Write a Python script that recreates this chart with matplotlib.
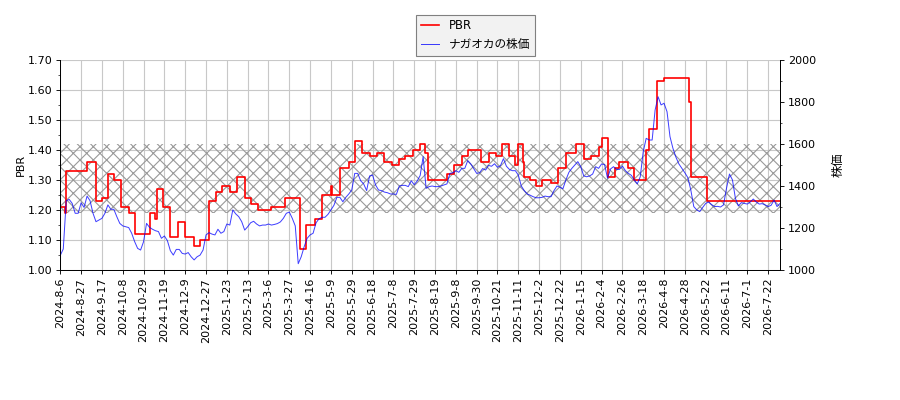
import numpy as np
import matplotlib
matplotlib.use('Agg')
import matplotlib.pyplot as plt
from matplotlib.ticker import MultipleLocator

plt.rcParams['font.family'] = ['DejaVu Sans', 'Noto Sans CJK JP']

# x軸ラベル（14営業日ごと）
tick_labels = ['2024-8-6', '2024-8-27', '2024-9-17', '2024-10-8', '2024-10-29', '2024-11-19',
               '2024-12-9', '2024-12-27', '2025-1-23', '2025-2-13', '2025-3-6', '2025-3-27',
               '2025-4-16', '2025-5-9', '2025-5-29', '2025-6-18', '2025-7-8', '2025-7-29',
               '2025-8-19', '2025-9-8', '2025-9-30', '2025-10-21', '2025-11-11', '2025-12-2',
               '2025-12-22', '2026-1-15', '2026-2-4', '2026-2-26', '2026-3-18', '2026-4-8',
               '2026-4-28', '2026-5-22', '2026-6-11', '2026-7-1', '2026-7-22']
tick_step = 14
n_days = 485

# PBR（変化した営業日 -> 値）
pbr_start = [0, 3, 4, 18, 24, 28, 32, 36, 41, 46, 50, 60, 64, 65, 69, 74, 79, 84, 90, 94,
             100, 105, 109, 114, 119, 124, 128, 133, 142, 151, 161, 165, 171, 176, 182, 183,
             188, 194, 198, 203, 208, 213, 218, 223, 228, 232, 237, 242, 245, 247, 260, 265,
             270, 274, 283, 288, 293, 297, 302, 306, 308, 311, 312, 316, 320, 324, 330, 335,
             340, 347, 352, 357, 362, 364, 368, 373, 376, 382, 386, 394, 396, 401, 406, 423,
             424, 435]
pbr_vals = [1.21, 1.19, 1.33, 1.36, 1.23, 1.24, 1.32, 1.30, 1.21, 1.19, 1.12, 1.19, 1.17, 1.27,
            1.21, 1.11, 1.16, 1.11, 1.08, 1.10, 1.23, 1.26, 1.28, 1.26, 1.31, 1.24, 1.22, 1.20,
            1.21, 1.24, 1.07, 1.15, 1.17, 1.25, 1.28, 1.25, 1.34, 1.36, 1.43, 1.39, 1.38, 1.39,
            1.36, 1.35, 1.37, 1.38, 1.40, 1.42, 1.39, 1.30, 1.32, 1.35, 1.38, 1.40, 1.36, 1.39,
            1.38, 1.42, 1.38, 1.35, 1.42, 1.36, 1.31, 1.30, 1.28, 1.30, 1.29, 1.34, 1.39, 1.42,
            1.37, 1.38, 1.41, 1.44, 1.31, 1.34, 1.36, 1.34, 1.30, 1.40, 1.47, 1.63, 1.64, 1.56,
            1.31, 1.23]

# 株価（2営業日ごと）
price_step = 2
price = [1070, 1100, 1330, 1336, 1317, 1270, 1270, 1320, 1298, 1352,
         1330, 1270, 1230, 1238, 1246, 1270, 1310, 1289, 1289, 1254,
         1222, 1210, 1206, 1202, 1175, 1135, 1103, 1095, 1135, 1222,
         1203, 1194, 1187, 1183, 1151, 1162, 1140, 1092, 1071, 1098,
         1098, 1079, 1076, 1083, 1063, 1048, 1063, 1071, 1095, 1167,
         1178, 1171, 1167, 1194, 1175, 1183, 1219, 1214, 1286, 1267,
         1254, 1230, 1190, 1206, 1225, 1232, 1219, 1210, 1214, 1214,
         1219, 1214, 1217, 1221, 1229, 1246, 1270, 1276, 1246, 1210,
         1030, 1063, 1111, 1151, 1167, 1175, 1225, 1244, 1251, 1251,
         1265, 1286, 1308, 1346, 1346, 1325, 1346, 1362, 1381, 1460,
         1460, 1425, 1410, 1378, 1448, 1452, 1405, 1381, 1378, 1371,
         1368, 1362, 1362, 1360, 1400, 1403, 1403, 1397, 1425, 1406,
         1424, 1450, 1540, 1389, 1397, 1400, 1397, 1397, 1400, 1405,
         1410, 1460, 1463, 1473, 1465, 1484, 1484, 1521, 1505, 1483,
         1460, 1463, 1483, 1476, 1498, 1494, 1506, 1489, 1497, 1530,
         1494, 1479, 1473, 1473, 1452, 1400, 1378, 1362, 1356, 1349,
         1344, 1344, 1346, 1352, 1349, 1349, 1378, 1400, 1394, 1387,
         1429, 1465, 1484, 1500, 1516, 1492, 1448, 1444, 1448, 1457,
         1492, 1484, 1505, 1502, 1437, 1481, 1492, 1479, 1479, 1495,
         1473, 1460, 1451, 1429, 1410, 1444, 1563, 1627, 1619, 1619,
         1762, 1825, 1786, 1794, 1754, 1635, 1579, 1537, 1505, 1484,
         1463, 1440, 1381, 1302, 1286, 1278, 1298, 1317, 1324, 1311,
         1302, 1303, 1300, 1310, 1389, 1457, 1429, 1341, 1305, 1321,
         1317, 1314, 1324, 1338, 1324, 1314, 1316, 1310, 1302, 1308,
         1333, 1302, 1317]

band_low = 1.19
band_high = 1.42

fig = plt.figure(figsize=(11.25, 5), dpi=80)
fig.subplots_adjust(left=0.067, right=0.8667, top=0.85, bottom=0.325)
ax = fig.add_subplot(111)

ax.axhspan(band_low, band_high, facecolor='none', edgecolor='#999999', hatch='xx', lw=0)

x_pbr = pbr_start + [n_days - 1]
y_pbr = pbr_vals + [pbr_vals[-1]]
l1, = ax.plot(x_pbr, y_pbr, color='red', lw=1.5, drawstyle='steps-post', label='PBR')

ax.set_xlim(0, n_days - 1)
ax.set_ylim(1.0, 1.7)
ax.yaxis.set_major_locator(MultipleLocator(0.1))
ax.yaxis.set_minor_locator(MultipleLocator(0.05))
ax.yaxis.set_major_formatter(matplotlib.ticker.FormatStrFormatter('%.2f'))
ax.set_xticks(np.arange(len(tick_labels)) * tick_step)
ax.set_xticklabels(tick_labels, rotation=90)
ax.grid(True, color='#c8c8c8', lw=1.0)
ax.set_axisbelow(True)
ax.set_ylabel('PBR', labelpad=2)
ax.spines['top'].set_visible(False)

ax2 = ax.twinx()
x_price = np.arange(len(price)) * price_step
l2, = ax2.plot(x_price, price, color='blue', lw=0.9, alpha=0.75, label='ナガオカの株価')
ax2.set_ylim(1000, 2000)
ax2.yaxis.set_major_locator(MultipleLocator(200))
ax2.yaxis.set_minor_locator(MultipleLocator(100))
ax2.set_ylabel('株価', fontsize=11, labelpad=14)
ax2.spines['top'].set_visible(False)

leg = fig.legend(handles=[l1, l2], loc='upper center', bbox_to_anchor=(0.528, 0.978),
                 fancybox=False, framealpha=1, handlelength=1.6, prop={'size': 10.5})
leg.get_frame().set_facecolor('#f2f2f2')
leg.get_frame().set_edgecolor('#808080')

plt.savefig('out.png', dpi=80)
